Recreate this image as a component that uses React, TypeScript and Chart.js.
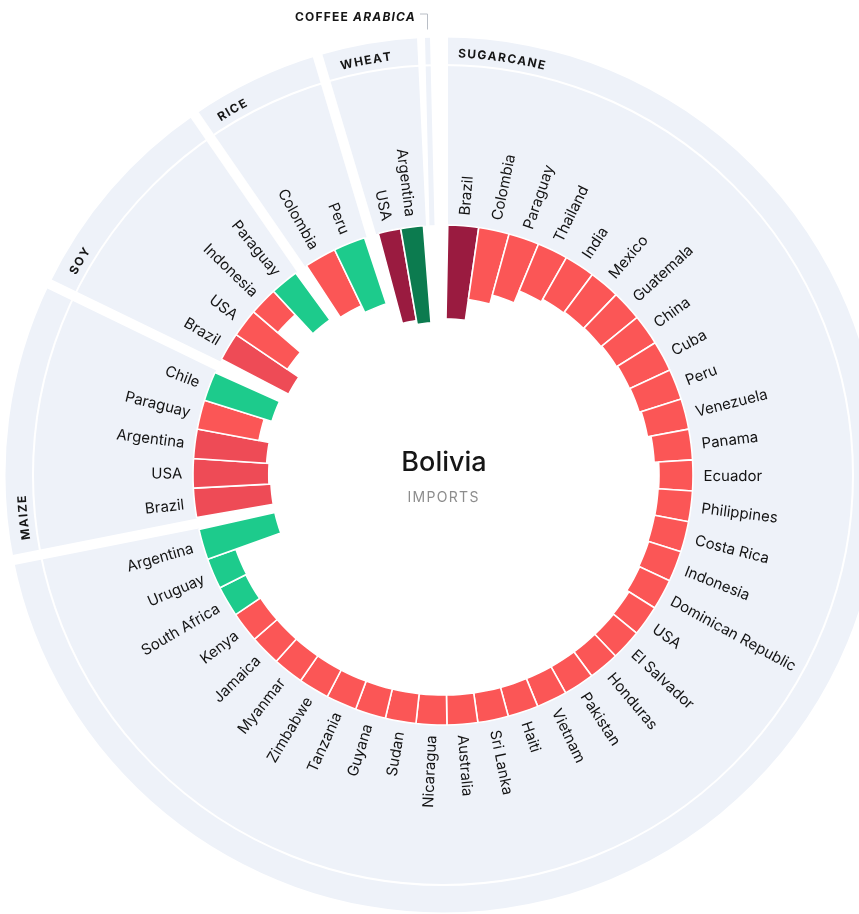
import React, { useEffect, useRef } from 'react';
import { Chart, registerables, PolarAreaController } from 'chart.js';

Chart.register(...registerables);

// ---------------- DATA ----------------
const centerTitle = 'Bolivia';
const centerSubtitle = 'IMPORTS';
const crops = ['SUGARCANE', 'MAIZE', 'SOY', 'RICE', 'WHEAT'];
const emptyCropLabel = ['COFFEE ', 'ARABICA'];

const sugarcaneCountries = ['Brazil', 'Colombia', 'Paraguay', 'Thailand', 'India', 'Mexico', 'Guatemala', 'China', 'Cuba', 'Peru', 'Venezuela', 'Panama', 'Ecuador', 'Philippines', 'Costa Rica', 'Indonesia', 'Dominican Republic', 'USA', 'El Salvador', 'Honduras', 'Pakistan', 'Vietnam', 'Haiti', 'Sri Lanka', 'Australia', 'Nicaragua', 'Sudan', 'Guyana', 'Tanzania', 'Zimbabwe', 'Myanmar', 'Jamaica', 'Kenya', 'South Africa', 'Uruguay', 'Argentina'];
const sugarcaneValues = [37.5, 29.1, 25.5, 20.4, 19.2, 18.8, 18.6, 18.2, 17.8, 17.6, 16.8, 15.4, 13.6, 13.8, 13.9, 13.6, 13.2, 12.2, 12, 12, 12, 12, 12, 12, 12, 12, 12, 12, 12, 12, 12, 12, 12, 11.6, 12, 31.1];
const sugarcaneTones = ['maroon', 'red', 'red', 'red', 'red', 'red', 'red', 'red', 'red', 'red', 'red', 'red', 'red', 'red', 'red', 'red', 'red', 'red', 'red', 'red', 'red', 'red', 'red', 'red', 'red', 'red', 'red', 'red', 'red', 'red', 'red', 'red', 'red', 'green', 'green', 'green'];

const maizeCountries = ['Brazil', 'USA', 'Argentina', 'Paraguay', 'Chile'];
const maizeValues = [31.1, 30.3, 29.3, 25.1, 28.3];
const maizeTones = ['deepRed', 'deepRed', 'deepRed', 'red', 'green'];

const soyCountries = ['Brazil', 'USA', 'Indonesia', 'Paraguay'];
const soyValues = [30.3, 24.8, 12.8, 23.2];
const soyTones = ['deepRed', 'red', 'red', 'green'];

const riceCountries = ['Colombia', 'Peru'];
const riceValues = [24.8, 27.9];
const riceTones = ['red', 'green'];

const wheatCountries = ['USA', 'Argentina'];
const wheatValues = [37.3, 38.9];
const wheatTones = ['maroon', 'darkGreen'];

// ---------------- STYLE / LAYOUT ----------------
const PALETTE: Record<string, string> = {
  maroon: '#9a1b40',
  red: '#fb5656',
  deepRed: '#ee4b56',
  green: '#1dcb8c',
  darkGreen: '#0c7b4f',
};
const PANEL = '#eef2f9';
const START_ANGLE = 1.1;
const PITCH = [7.12, 6.8, 6.575, 7.4, 5.25];
const GAP_AFTER = [2.78, 3.4, 3.0, 3.3];
const LEAD = 1.1;
const TAIL = 1.75;
const R_OUT = 437.5;
const R_LINE = 410;
const R_CROP = 422;
const GAP_HALF = 5;
const LABEL_PAD = 10.5;
const DEG = Math.PI / 180;

const groupData = [
  [sugarcaneCountries, sugarcaneValues, sugarcaneTones],
  [maizeCountries, maizeValues, maizeTones],
  [soyCountries, soyValues, soyTones],
  [riceCountries, riceValues, riceTones],
  [wheatCountries, wheatValues, wheatTones],
] as [string[], number[], string[]][];

type Slot = { label: string; value: number; tone: string; gap: boolean; angle: number };
const slots: Slot[] = [];
const ranges: { first: number; last: number }[] = [];
groupData.forEach(([names, vals, tones], g) => {
  const first = slots.length;
  names.forEach((n, i) => slots.push({ label: n, value: vals[i], tone: tones[i], gap: false, angle: PITCH[g] }));
  ranges.push({ first, last: slots.length - 1 });
  if (g < groupData.length - 1) slots.push({ label: '', value: 0, tone: 'none', gap: true, angle: GAP_AFTER[g] });
});

class RingBarController extends (PolarAreaController as any) {
  static id = 'ringBar';
  static defaults = { ...(PolarAreaController as any).defaults };
  static overrides = (PolarAreaController as any).overrides;
  updateElement(element: any, index: number, properties: any, mode: any) {
    if (properties && typeof properties.outerRadius === 'number') {
      const scale: any = (this as any)._cachedMeta.rScale;
      const base = scale.getDistanceFromCenterForValue(scale.min);
      properties.innerRadius = properties.outerRadius;
      properties.outerRadius = base;
    }
    super.updateElement(element, index, properties, mode);
  }
}
Chart.register(RingBarController as any);

function bounds(chart: any): number[] {
  const els = chart.getDatasetMeta(0).data as any[];
  const b: number[] = [els[ranges[0].first].startAngle - LEAD * DEG];
  for (let g = 1; g < ranges.length; g++) {
    b.push((els[ranges[g - 1].last].endAngle + els[ranges[g].first].startAngle) / 2);
  }
  b.push(els[ranges[ranges.length - 1].last].endAngle + TAIL * DEG);
  return b;
}

const decor = {
  id: 'radialDecor',
  beforeDatasetsDraw(chart: any) {
    const ctx = chart.ctx as CanvasRenderingContext2D;
    const s = chart.scales.r;
    const cx = s.xCenter, cy = s.yCenter, rIn = s.drawingArea;
    const els = chart.getDatasetMeta(0).data as any[];
    const b = bounds(chart);
    const G = ranges.length;
    ctx.save();
    ctx.fillStyle = PANEL;
    for (let g = 0; g < G; g++) {
      ctx.beginPath();
      ctx.arc(cx, cy, R_OUT, b[g], b[g + 1]);
      ctx.arc(cx, cy, rIn, b[g + 1], b[g], true);
      ctx.closePath();
      ctx.fill();
    }
    ctx.strokeStyle = '#ffffff';
    ctx.lineWidth = GAP_HALF * 2;
    for (const a of b) {
      ctx.beginPath();
      ctx.moveTo(cx, cy);
      ctx.lineTo(cx + Math.cos(a) * (R_OUT + 12), cy + Math.sin(a) * (R_OUT + 12));
      ctx.stroke();
    }
    // empty coffee sector strip
    const mid = (b[G] + b[0] + 2 * Math.PI) / 2;
    ctx.save();
    ctx.beginPath();
    ctx.arc(cx, cy, R_OUT, 0, 2 * Math.PI);
    ctx.arc(cx, cy, rIn, 2 * Math.PI, 0, true);
    ctx.clip();
    ctx.translate(cx, cy);
    ctx.rotate(mid + Math.PI / 2);
    ctx.fillStyle = PANEL;
    ctx.fillRect(-7.5, -(R_OUT + 5), 5, R_OUT + 5);
    ctx.restore();
    // ring line
    ctx.beginPath();
    ctx.arc(cx, cy, R_LINE, 0, 2 * Math.PI);
    ctx.strokeStyle = '#ffffff';
    ctx.lineWidth = 2;
    ctx.stroke();
    // crop labels along the arc
    ctx.fillStyle = '#161616';
    ctx.font = '700 12px Inter';
    ctx.textAlign = 'center';
    ctx.textBaseline = 'alphabetic';
    const capH = 12 * 0.727;
    const ls = 1.4;
    crops.forEach((name, g) => {
      let a = els[ranges[g].first].startAngle + 7 / R_CROP;
      for (const ch of name) {
        const w = ctx.measureText(ch).width;
        const ac = a + w / 2 / R_CROP;
        ctx.save();
        ctx.translate(cx, cy);
        ctx.rotate(ac + Math.PI / 2);
        ctx.fillText(ch, 0, -(R_CROP - capH / 2));
        ctx.restore();
        a += (w + ls) / R_CROP;
      }
    });
    ctx.restore();
  },
  afterDatasetsDraw(chart: any) {
    const ctx = chart.ctx as CanvasRenderingContext2D;
    const s = chart.scales.r;
    const cx = s.xCenter, cy = s.yCenter;
    const els = chart.getDatasetMeta(0).data as any[];
    const b = bounds(chart);
    ctx.save();
    ctx.font = '400 15px Inter';
    ctx.fillStyle = '#141414';
    ctx.textBaseline = 'alphabetic';
    const capH = 15 * 0.727;
    els.forEach((el: any, i: number) => {
      const slot = slots[i];
      if (slot.gap) return;
      const a = (el.startAngle + el.endAngle) / 2;
      const r = el.outerRadius + LABEL_PAD;
      let th = (a / DEG + 90) % 360;
      if (th < 0) th += 360;
      ctx.save();
      ctx.translate(cx, cy);
      ctx.rotate(a);
      if (th < 180) {
        ctx.textAlign = 'left';
        ctx.fillText(slot.label, r, capH / 2);
      } else {
        ctx.translate(r, 0);
        ctx.rotate(Math.PI);
        ctx.textAlign = 'right';
        ctx.fillText(slot.label, 0, capH / 2);
      }
      ctx.restore();
    });
    // center
    ctx.textAlign = 'center';
    ctx.fillStyle = '#161616';
    ctx.font = '500 27px Inter';
    ctx.fillText(centerTitle, cx + 1, cy - 4);
    ctx.fillStyle = '#8d8d8d';
    ctx.font = '400 14px Inter';
    (ctx as any).letterSpacing = '1.3px';
    ctx.fillText(centerSubtitle, cx + 0.65, cy + 27);
    (ctx as any).letterSpacing = '1.2px';
    // empty sector label with leader
    const G = ranges.length;
    const mid = (b[G] + b[0] + 2 * Math.PI) / 2;
    const lx = cx + Math.cos(mid) * R_OUT + Math.cos(mid - Math.PI / 2) * 5 - 0.5;
    const yTop = cy - R_OUT - 24;
    ctx.strokeStyle = '#b9bec6';
    ctx.lineWidth = 1;
    ctx.beginPath();
    ctx.moveTo(lx - 7, yTop + 0.5);
    ctx.lineTo(lx + 0.5, yTop + 0.5);
    ctx.lineTo(lx + 0.5, cy - R_OUT - 8);
    ctx.stroke();
    ctx.fillStyle = '#161616';
    ctx.textAlign = 'left';
    ctx.font = 'italic 700 12px Inter';
    const w2 = ctx.measureText(emptyCropLabel[1]).width;
    ctx.font = '700 12px Inter';
    const w1 = ctx.measureText(emptyCropLabel[0]).width;
    const xEnd = lx - 11;
    const x0 = xEnd - w1 - w2;
    ctx.fillText(emptyCropLabel[0], x0, yTop + 7);
    ctx.font = 'italic 700 12px Inter';
    ctx.fillText(emptyCropLabel[1], x0 + w1, yTop + 7);
    ctx.restore();
  },
};

export default function App() {
  const ref = useRef<HTMLCanvasElement | null>(null);
  useEffect(() => {
    if (!ref.current) return;
    const chart = new Chart(ref.current, {
      type: 'ringBar' as any,
      data: {
        labels: slots.map((s) => s.label),
        datasets: [
          {
            data: slots.map((s) => s.value),
            backgroundColor: slots.map((s) => (s.gap ? 'rgba(0,0,0,0)' : PALETTE[s.tone])),
            borderColor: '#ffffff',
            borderWidth: slots.map((s) => (s.gap ? 0 : 1.6)),
            angle: (c: any) => slots[c.dataIndex].angle,
          } as any,
        ],
      },
      options: {
        animation: false,
        responsive: true,
        maintainAspectRatio: false,
        layout: { padding: { left: 193, right: 165, top: 225, bottom: 188 } },
        plugins: { legend: { display: false }, tooltip: { enabled: false } },
        scales: {
          r: {
            type: 'radialLinear',
            reverse: true,
            min: 0,
            max: 100,
            startAngle: START_ANGLE,
            grid: { display: false },
            angleLines: { display: false },
            ticks: { display: false },
            pointLabels: { display: false },
          },
        },
      } as any,
      plugins: [decor],
    });
    return () => chart.destroy();
  }, []);
  return (
    <div style={{ position: 'absolute', left: 0, top: 0, width: 859, height: 914, background: '#ffffff' }}>
      <canvas ref={ref} />
    </div>
  );
}
